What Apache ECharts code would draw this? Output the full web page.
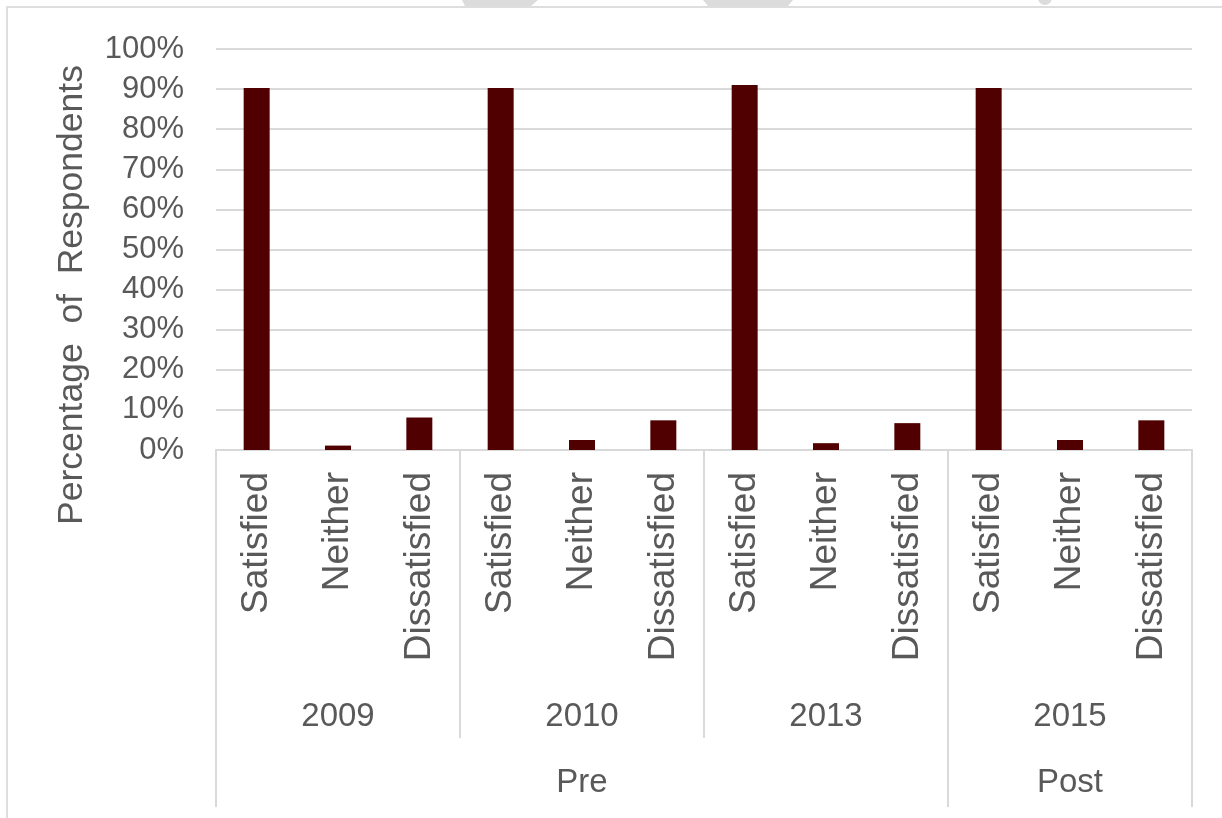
<!DOCTYPE html>
<html>
<head>
<meta charset="utf-8">
<style>
  html, body { margin: 0; padding: 0; background: #ffffff; }
  #chart { width: 1222px; height: 818px; }
</style>
<script src="https://cdn.jsdelivr.net/npm/echarts@6/dist/echarts.min.js"></script>
</head>
<body>
<div id="chart"></div>
<script>
// ---- Data ----
const responses = ['Satisfied', 'Neither', 'Dissatisfied'];
const years = ['2009', '2010', '2013', '2015'];
const periods = ['Pre', 'Post'];
const periodYearCounts = [3, 1];
const satisfied = [90.3, 90.3, 91.0, 90.3];
const neither = [1.1, 2.5, 1.7, 2.5];
const dissatisfied = [8.1, 7.4, 6.7, 7.4];
const yTicks = [0, 100, 10];
const yTitle = 'Percentage  of  Respondents';

// ---- Derived ----
const categories = [];
const values = [];
years.forEach((y, i) => {
  categories.push(responses[0], responses[1], responses[2]);
  values.push(satisfied[i], neither[i], dissatisfied[i]);
});
const periodLabels = [];
const periodBounds = [];
let start = 0;
periods.forEach((p, i) => {
  const n = periodYearCounts[i] * responses.length;
  periodBounds.push(start);
  for (let k = 0; k < n; k++) periodLabels.push(k === Math.floor(n / 2) ? p : '');
  start += n;
});

const grey = '#d9d9d9';
const textColor = '#595959';
const font = "'Liberation Sans', Arial, sans-serif";

const chart = echarts.init(document.getElementById('chart'));
chart.setOption({
  backgroundColor: '#ffffff',
  animation: false,
  grid: { left: 216, right: 30, top: 49, bottom: 368 },
  xAxis: [
    {
      type: 'category',
      data: categories,
      position: 'bottom',
      axisLine: { show: true, lineStyle: { color: grey, width: 2 } },
      axisTick: { show: false },
      axisLabel: {
        interval: 0, rotate: 90, margin: 22,
        fontSize: 37, fontFamily: font, color: textColor
      },
      splitLine: { show: false }
    },
    {
      type: 'category',
      data: years,
      position: 'bottom',
      axisLine: { show: false },
      axisTick: { show: true, length: 288, interval: 0, lineStyle: { color: grey, width: 2 } },
      axisLabel: {
        interval: 0, margin: 250,
        fontSize: 33, fontFamily: font, color: textColor
      },
      splitLine: { show: false }
    },
    {
      type: 'category',
      data: periodLabels,
      position: 'bottom',
      axisLine: { show: false },
      axisTick: {
        show: true, length: 357,
        interval: (idx) => periodBounds.indexOf(idx) >= 0,
        lineStyle: { color: grey, width: 2 }
      },
      axisLabel: {
        interval: 0, margin: 316,
        fontSize: 33, fontFamily: font, color: textColor
      },
      splitLine: { show: false }
    }
  ],
  yAxis: {
    type: 'value',
    min: yTicks[0], max: yTicks[1], interval: yTicks[2],
    axisLine: { show: false },
    axisTick: { show: false },
    axisLabel: {
      formatter: '{value}%', margin: 32,
      fontSize: 31, fontFamily: font, color: textColor
    },
    splitLine: { lineStyle: { color: grey, width: 2 } }
  },
  series: [{
    type: 'bar',
    xAxisIndex: 0,
    data: values,
    barWidth: 26,
    itemStyle: { color: '#500000' }
  }],
  graphic: [
    {
      type: 'rect', silent: true,
      shape: { x: 7, y: 7, width: 1260, height: 860 },
      style: { fill: 'none', stroke: '#dedede', lineWidth: 2 }
    },
    {
      type: 'polygon', silent: true,
      shape: { points: [[462, 0], [538, 0], [531, 6], [465, 6]] },
      style: { fill: '#dcdcdc' }
    },
    {
      type: 'polygon', silent: true,
      shape: { points: [[703, 0], [793, 0], [788, 6], [708, 6]] },
      style: { fill: '#dcdcdc' }
    },
    {
      type: 'circle', silent: true,
      shape: { cx: 1045, cy: -2, r: 7 },
      style: { fill: '#dcdcdc' }
    },
    {
      type: 'text', silent: true,
      x: 72, y: 295, rotation: Math.PI / 2,
      style: {
        text: yTitle, fontSize: 35.5, fontFamily: font, fill: textColor,
        align: 'center', verticalAlign: 'middle'
      }
    }
  ]
});
</script>
</body>
</html>
